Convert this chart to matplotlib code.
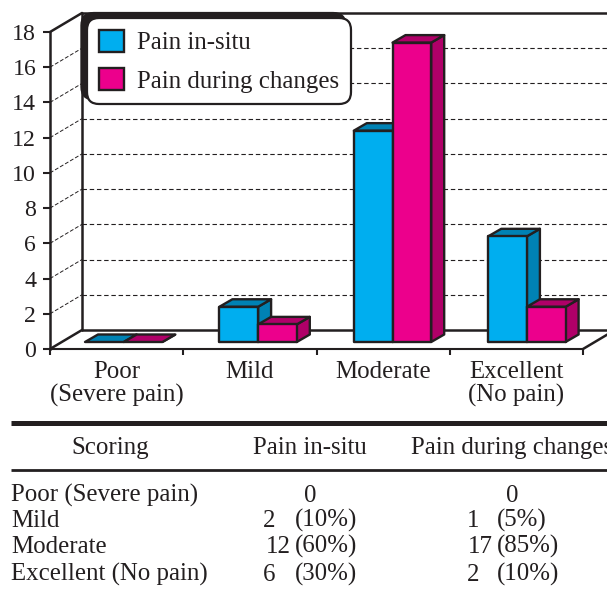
import matplotlib
matplotlib.use("Agg")
import matplotlib.pyplot as plt
from matplotlib.lines import Line2D
from matplotlib.patches import Patch

plt.rcParams["font.family"] = ["Liberation Serif", "DejaVu Serif"]

# ── data ──────────────────────────────────────────────────────────────────────
categories = ["Poor\n(Severe pain)", "Mild", "Moderate", "Excellent\n(No pain)"]
pain_in_situ = [0, 2, 12, 6]
pain_during = [0, 1, 17, 2]
y_ticks = list(range(0, 20, 2))

table_headers = ["Scoring", "Pain in-situ", "Pain during changes"]
table_rows = ["Poor (Severe pain)", "Mild", "Moderate", "Excellent (No pain)"]
in_situ_pct = ["", "(10%)", "(60%)", "(30%)"]
during_pct = ["", "(5%)", "(85%)", "(10%)"]

# ── styles ────────────────────────────────────────────────────────────────────
W, H = 607, 591
INK = "#231f20"
BLUE, BLUE_DARK = "#00aeef", "#0082b4"
PINK, PINK_DARK = "#ec008c", "#b00068"
TXT = 17.9
TICK_TXT = 17.2


def fx(px):
    return px / W


def fy(py):
    return 1 - py / H


fig = plt.figure(figsize=(W / 100, H / 100), dpi=100, facecolor="white")
ax = fig.add_axes([fx(50), fy(349), (583 - 50) / W, (349 - 32) / H])
ax.set_facecolor("none")
ax.set_xlim(0, 4)
ax.set_ylim(0, 18)

# wall depth and bar geometry, in axis units
DX, DY = 32 / 133.25, 19 / 17.6
BAR_W = 38.7 / 133.25
BAR_START = 35 / 133.25
BAR_STEP = 134.4 / 133.25
BAR_BASE = 7 / 17.6
BAR_DX, BAR_DY = 13 / 133.25, 7.5 / 17.6
RIGHT_END = 4.6

# ── walls ─────────────────────────────────────────────────────────────────────
for t in y_ticks[1:-1]:
    ax.plot([0, DX], [t, t + DY], color=INK, lw=0.7, ls=(0, (4, 2)), clip_on=False, zorder=1)
    ax.plot([DX, RIGHT_END], [t + DY, t + DY], color=INK, lw=0.8, ls=(0, (4, 2.5)), clip_on=False, zorder=1)

wall = dict(color=INK, clip_on=False, zorder=2, solid_capstyle="round")
ax.plot([DX, DX], [DY, 18 + DY], lw=1.8, **wall)
ax.plot([0, DX], [18, 18 + DY], lw=1.8, **wall)
ax.plot([DX, RIGHT_END], [18 + DY, 18 + DY], lw=1.8, **wall)
ax.plot([DX, RIGHT_END], [DY, DY], lw=1.8, **wall)
ax.plot([0, DX], [0, DY], lw=1.8, **wall)
ax.plot([4, 4 + DX], [0, DY], lw=1.8, **wall)


# ── bars ──────────────────────────────────────────────────────────────────────
def bar3d(x, value, front, dark, z):
    y0, y1 = BAR_BASE, BAR_BASE + value
    x1 = x + BAR_W
    kw = dict(edgecolor=INK, lw=1.7, clip_on=False, zorder=z, joinstyle="round")
    ax.fill([x1, x1 + BAR_DX, x1 + BAR_DX, x1],
            [y0, y0 + BAR_DY, y1 + BAR_DY, y1], facecolor=dark, **kw)
    ax.fill([x, x + BAR_DX, x1 + BAR_DX, x1],
            [y1, y1 + BAR_DY, y1 + BAR_DY, y1], facecolor=dark, **kw)
    if value > 0:
        ax.fill([x, x1, x1, x], [y0, y0, y1, y1], facecolor=front, **kw)


for i, (a, b) in enumerate(zip(pain_in_situ, pain_during)):
    left = i * BAR_STEP + BAR_START
    bar3d(left, a, BLUE, BLUE_DARK, 3 + i)
    bar3d(left + BAR_W, b, PINK, PINK_DARK, 3.5 + i)

# ── axes ──────────────────────────────────────────────────────────────────────
for side in ["top", "right"]:
    ax.spines[side].set_visible(False)
ax.spines["left"].set_linewidth(1.8)
ax.spines["bottom"].set_linewidth(1.5)
ax.spines["left"].set_color(INK)
ax.spines["bottom"].set_color(INK)

ax.set_yticks(y_ticks)
ax.tick_params(axis="y", length=5, width=1.5, color=INK, labelsize=TICK_TXT, labelcolor=INK, pad=5)
ax.set_xticks(range(5))
ax.set_xticklabels([])
ax.tick_params(axis="x", which="major", length=4, width=1.5, color=INK)
ax.set_xticks([i + 0.5 for i in range(4)], minor=True)
ax.set_xticklabels(categories, minor=True, fontsize=TXT, color=INK, linespacing=1.02)
ax.tick_params(axis="x", which="minor", length=0, pad=9)

# ── legend ────────────────────────────────────────────────────────────────────
handles = [Patch(facecolor=BLUE, edgecolor=INK, lw=1.7), Patch(facecolor=PINK, edgecolor=INK, lw=1.7)]
leg = ax.legend(
    handles, ["Pain in-situ", "Pain during changes"],
    loc="upper left", bbox_to_anchor=(fx(87), fy(18)), bbox_transform=fig.transFigure,
    borderaxespad=0, fontsize=TXT, labelcolor=INK,
    handlelength=1.0, handleheight=1.0, handletextpad=0.55, labelspacing=0.55,
    borderpad=0.47, frameon=True, fancybox=True, framealpha=1, edgecolor=INK,
    shadow=dict(ox=-4, oy=3.6, color=INK, alpha=1, shade=0),
)
leg.get_frame().set_linewidth(1.6)
leg.get_frame().set_boxstyle("round", pad=0, rounding_size=0.5)
leg.set_zorder(20)

# ── table ─────────────────────────────────────────────────────────────────────
fig.add_artist(Line2D([fx(11), 1], [fy(423), fy(423)], color=INK, lw=3.6, solid_capstyle="butt"))
fig.add_artist(Line2D([fx(11), 1], [fy(470), fy(470)], color=INK, lw=2.0, solid_capstyle="butt"))

head = dict(color=INK, fontsize=TXT, va="baseline")
fig.text(fx(110), fy(454), table_headers[0], ha="center", **head)
fig.text(fx(310), fy(454), table_headers[1], ha="center", **head)
fig.text(fx(411), fy(454), table_headers[2], ha="left", **head)

row_y = [502, 527, 553, 581]
for label, a, ap, b, bp, y in zip(table_rows, pain_in_situ, in_situ_pct, pain_during, during_pct, row_y):
    cell = dict(color=INK, fontsize=TXT, va="baseline")
    fig.text(fx(11), fy(y), label, ha="left", **cell)
    if a == 0 and b == 0:
        fig.text(fx(310), fy(y), str(a), ha="center", **cell)
        fig.text(fx(512), fy(y), str(b), ha="center", **cell)
        continue
    fig.text(fx(278 if a > 9 else 269), fy(y), str(a), ha="center", **cell)
    fig.text(fx(295), fy(y), ap, ha="left", **cell)
    fig.text(fx(480 if b > 9 else 473), fy(y), str(b), ha="center", **cell)
    fig.text(fx(497), fy(y), bp, ha="left", **cell)

fig.savefig("out.png", dpi=100, facecolor="white")
